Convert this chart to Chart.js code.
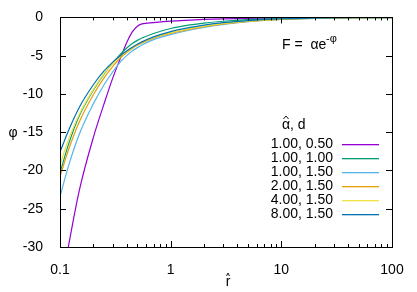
<!DOCTYPE html>
<html>
<head>
<meta charset="utf-8">
<script src="https://cdn.jsdelivr.net/npm/chart.js@4/dist/chart.umd.min.js"></script>
<style>
  body { margin: 0; background: #fff; }
  #wrap { width: 417px; height: 292px; }
</style>
</head>
<body>
<div id="wrap"><canvas id="chart" width="417" height="292"></canvas></div>
<script>
// r-hat sample points (shared by all curves)
const rVals = [0.1, 0.12, 0.15, 0.2, 0.25, 0.3, 0.35, 0.4, 0.45, 0.5, 0.55, 0.7, 1, 1.5, 2, 3, 5, 10, 20, 50, 100]

// phi values, one array per (alpha-hat, d)
const phiA1d050 = [-36.4, -29.7, -22.5, -15.7, -11.3, -7.9, -5.4, -3.3, -1.9, -1.15, -0.85, -0.68, -0.48, -0.35, -0.27, -0.19, -0.12, -0.06, -0.03, -0.01, 0]
const phiA1d100 = [-20.3, -16.5, -12.8, -9.5, -7.4, -5.95, -4.85, -4.0, -3.42, -3.0, -2.7, -2.1, -1.45, -0.98, -0.74, -0.5, -0.3, -0.15, -0.07, -0.03, -0.01]
const phiA1d150 = [-23.4, -19.3, -15.2, -11.3, -8.8, -7.1, -5.85, -5.0, -4.4, -3.95, -3.6, -2.9, -2.25, -1.65, -1.3, -0.9, -0.55, -0.27, -0.13, -0.05, -0.02]
const phiA2d150 = [-20.8, -17.2, -13.6, -10.1, -7.9, -6.4, -5.3, -4.6, -4.05, -3.65, -3.35, -2.7, -2.1, -1.55, -1.22, -0.85, -0.52, -0.25, -0.12, -0.05, -0.02]
const phiA4d150 = [-19.2, -15.9, -12.6, -9.4, -7.35, -6.0, -5.05, -4.45, -3.95, -3.55, -3.25, -2.62, -2.0, -1.45, -1.15, -0.8, -0.49, -0.24, -0.11, -0.04, -0.02]
const phiA8d150 = [-17.6, -14.7, -11.7, -8.8, -7.0, -5.85, -5.0, -4.4, -3.9, -3.5, -3.2, -2.55, -1.85, -1.3, -1.0, -0.68, -0.41, -0.2, -0.1, -0.04, -0.02]

const seriesLabels = ['1.00, 0.50', '1.00, 1.00', '1.00, 1.50', '2.00, 1.50', '4.00, 1.50', '8.00, 1.50']
const seriesData = [phiA1d050, phiA1d100, phiA1d150, phiA2d150, phiA4d150, phiA8d150]
const seriesColors = ['#9400d3', '#009e73', '#56b4e9', '#e69f00', '#f0e442', '#0072b2']

// axis ticks
const xMajor = [0.1, 1, 10, 100]
const yTicks = [-30, -25, -20, -15, -10, -5, 0]

let xAll = []
xMajor.forEach((d, i) => {
    if (i === xMajor.length - 1) { xAll.push(d); return }
    for (let k = 1; k < 10; k++) xAll.push(+(d * k).toPrecision(3))
})

const FONT = 'Liberation Sans, Arial, sans-serif'

// draw a letter with a small hat above it, centred on x
function hatted(ctx, ch, x, y) {
    ctx.textAlign = 'center'
    ctx.fillText(ch, x, y)
    const w = ctx.measureText(ch).width
    ctx.lineWidth = 0.9
    ctx.strokeStyle = '#000'
    ctx.beginPath()
    ctx.moveTo(x - w * 0.32, y - 10)
    ctx.lineTo(x, y - 13)
    ctx.lineTo(x + w * 0.32, y - 10)
    ctx.stroke()
    return w
}

const framePlugin = {
    id: 'frame',
    afterDraw(chart) {
        const ctx = chart.ctx
        const a = chart.chartArea
        const xs = chart.scales.x
        const ys = chart.scales.y
        ctx.save()
        ctx.strokeStyle = '#000'
        ctx.lineWidth = 1
        ctx.beginPath()
        // inward ticks, mirrored on top and right
        xAll.forEach(v => {
            const px = Math.round(xs.getPixelForValue(v)) + 0.5
            const len = xMajor.includes(v) ? 6 : 3
            ctx.moveTo(px, a.bottom); ctx.lineTo(px, a.bottom - len)
            ctx.moveTo(px, a.top); ctx.lineTo(px, a.top + len)
        })
        yTicks.forEach(v => {
            const py = Math.round(ys.getPixelForValue(v)) + 0.5
            ctx.moveTo(a.left, py); ctx.lineTo(a.left + 6, py)
            ctx.moveTo(a.right, py); ctx.lineTo(a.right - 6, py)
        })
        ctx.stroke()
        ctx.strokeRect(Math.round(a.left) + 0.5, Math.round(a.top) + 0.5, Math.round(a.right - a.left), Math.round(a.bottom - a.top))

        // axis titles
        ctx.fillStyle = '#000'
        ctx.font = '14px ' + FONT
        ctx.textAlign = 'center'
        ctx.textBaseline = 'alphabetic'
        ctx.fillText('φ', 13, (a.top + a.bottom) / 2 + 5)
        hatted(ctx, 'r', (a.left + a.right) / 2 + 2, 286)

        // formula
        ctx.textAlign = 'left'
        ctx.fillText('F =  αe', a.left + 222, 49)
        ctx.font = '11px ' + FONT
        ctx.fillText('-φ', a.left + 266, 42)

        // key
        ctx.font = '14px ' + FONT
        const aw = hatted(ctx, 'α', a.right - 106, 129)
        ctx.textAlign = 'left'
        ctx.fillText(', d', a.right - 106 + aw / 2, 129)
        ctx.textAlign = 'right'
        ctx.textBaseline = 'middle'
        seriesLabels.forEach((lab, i) => {
            const y = Math.round(a.top + 127 + i * 14)
            ctx.fillStyle = '#000'
            ctx.fillText(lab, a.right - 59, y + 0.5)
            ctx.fillStyle = seriesColors[i]
            ctx.fillRect(a.right - 50, y, 37, 1.3)
        })
        ctx.restore()
    }
}

const datasets = seriesData.map((vals, i) => ({
    label: seriesLabels[i],
    data: vals.map((v, j) => ({ x: rVals[j], y: v })),
    borderColor: seriesColors[i],
    borderWidth: 1.2,
    pointRadius: 0,
    fill: false,
    cubicInterpolationMode: 'monotone',
    order: seriesData.length - i
}))

new Chart(document.getElementById('chart'), {
    type: 'line',
    data: { datasets: datasets },
    options: {
        responsive: false,
        animation: false,
        layout: { padding: { left: 0, right: 25, top: 16, bottom: 0 } },
        plugins: {
            legend: { display: false },
            tooltip: { enabled: false }
        },
        scales: {
            x: {
                type: 'logarithmic',
                min: 0.1,
                max: 100,
                grid: { display: false },
                border: { display: false },
                afterBuildTicks: s => { s.ticks = xMajor.map(v => ({ value: v })) },
                afterFit: s => { s.height = 45 },
                ticks: {
                    padding: 7,
                    color: '#000',
                    font: { family: FONT, size: 14 },
                    maxRotation: 0,
                    autoSkip: false,
                    callback: v => String(v)
                }
            },
            y: {
                min: -30,
                max: 0,
                grid: { display: false },
                border: { display: false },
                afterBuildTicks: s => { s.ticks = yTicks.map(v => ({ value: v })) },
                afterFit: s => { s.width = 60 },
                ticks: {
                    padding: 9,
                    color: '#000',
                    font: { family: FONT, size: 14 },
                    callback: v => String(v)
                }
            }
        }
    },
    plugins: [framePlugin]
})
</script>
</body>
</html>
